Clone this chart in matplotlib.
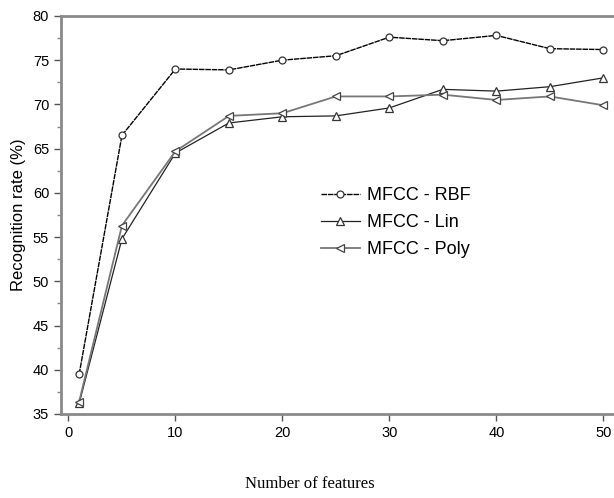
import numpy as np
import matplotlib
matplotlib.use("Agg")
import matplotlib.pyplot as plt
from matplotlib.ticker import MultipleLocator

# data
features = [1, 5, 10, 15, 20, 25, 30, 35, 40, 45, 50]
rbf = [39.5, 66.5, 74.0, 73.9, 75.0, 75.5, 77.6, 77.2, 77.8, 76.3, 76.2]
lin = [36.2, 54.8, 64.5, 67.9, 68.6, 68.7, 69.6, 71.7, 71.5, 72.0, 73.0]
poly = [36.4, 56.3, 64.7, 68.7, 69.0, 70.9, 70.9, 71.1, 70.5, 70.9, 69.9]
labels = ["MFCC - RBF", "MFCC - Lin", "MFCC - Poly"]

fig = plt.figure(figsize=(6.14, 4.98), dpi=100)
ax = fig.add_axes([0.0993, 0.1687, 0.9007, 0.7993])

ax.plot(features, rbf, color='black', lw=1.0, ls=(0, (4, 0.6)),
        marker='o', ms=5, mfc='white', mec='#333333', mew=0.9, label=labels[0])
ax.plot(features, lin, color='#222222', lw=0.9,
        marker='^', ms=5.5, mfc='white', mec='#333333', mew=0.9, label=labels[1])
ax.plot(features, poly, color='#777777', lw=1.3,
        marker='<', ms=5.5, mfc='white', mec='#444444', mew=0.9, label=labels[2])

ax.set_xlim(-0.7, 51.0)
ax.set_ylim(35, 80)
ax.xaxis.set_major_locator(MultipleLocator(10))
ax.yaxis.set_major_locator(MultipleLocator(5))
ax.yaxis.set_minor_locator(MultipleLocator(2.5))

for s in ['left', 'bottom', 'top']:
    ax.spines[s].set_color('#8a8a8a')
    ax.spines[s].set_linewidth(2)
ax.spines['right'].set_visible(False)

ax.tick_params(axis='both', which='major', direction='out', length=5,
               width=1, color='#555555', labelsize=10.5)
ax.tick_params(axis='y', which='minor', direction='out', length=3,
               width=1, color='#888888')
ax.tick_params(axis='x', which='both', top=False)

for t in ax.get_xticklabels() + ax.get_yticklabels():
    t.set_fontfamily('Liberation Sans')

ax.set_ylabel("Recognition rate (%)", fontsize=12, family='Liberation Sans', labelpad=5)
fig.text(0.505, 0.012, "Number of features", ha='center', va='bottom',
         fontsize=12, family='Liberation Serif')

ax.legend(loc='upper left', bbox_to_anchor=(0.44, 0.61), frameon=False,
          prop={'family': 'Liberation Sans', 'size': 13},
          handlelength=2.2, handletextpad=0.4, labelspacing=0.55)

fig.savefig('out.png', dpi=100)
